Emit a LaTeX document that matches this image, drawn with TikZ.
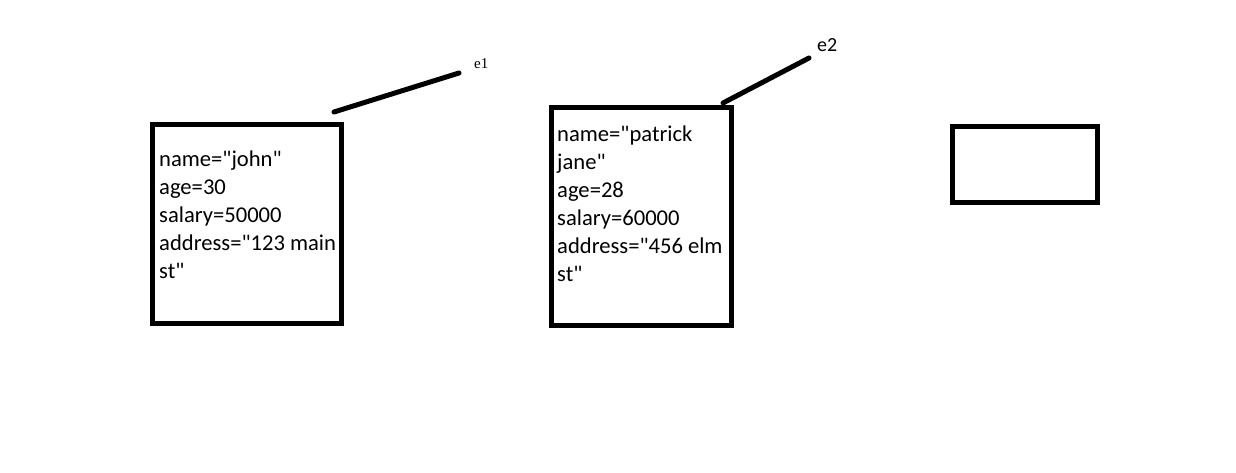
\documentclass[tikz,border=0pt]{standalone}
\usepackage{fontspec}
\newfontfamily\calib{Carlito}
\newfontfamily\labserif{Liberation Serif}
\begin{document}
\begin{tikzpicture}[x=1pt,y=-1pt,
  objbox/.style={draw=black,line width=5pt,rectangle,inner sep=0pt},
  ref/.style={draw=black,line width=5pt,line cap=round},
  fields/.style={align=left,inner sep=0pt,anchor=north west,font=\calib\fontsize{22.6}{28}\selectfont},
]
\useasboundingbox[fill=white] (0,0) rectangle (1236,473);
\node[objbox,minimum width=189pt,minimum height=199pt] (b1) at (247,224) {};
\node[objbox,minimum width=180pt,minimum height=218pt] (b2) at (641.5,216.5) {};
\node[objbox,minimum width=145pt,minimum height=76pt] (b3) at (1025,164.5) {};
\node[fields] (t1) at (159,151) {name="john"\\age=30\\salary=50000\\address="123 main\\st"};
\node[fields] (t2) at (557,126) {name="patrick\\jane"\\age=28\\salary=60000\\address="456 elm\\st"};
\coordinate (s1) at (334,112);
\coordinate (e1end) at (459,73);
\coordinate (s2) at (723,103);
\coordinate (e2end) at (809,58);
\draw[ref] (s1) -- (e1end);
\draw[ref] (s2) -- (e2end);
\node[font=\labserif\fontsize{15}{17}\selectfont,anchor=base west,inner sep=0pt] (l1) at (474,69) {e1};
\node[font=\calib\fontsize{20}{22}\selectfont,anchor=base west,inner sep=0pt] (l2) at (817,52) {e2};
\end{tikzpicture}
\end{document}
